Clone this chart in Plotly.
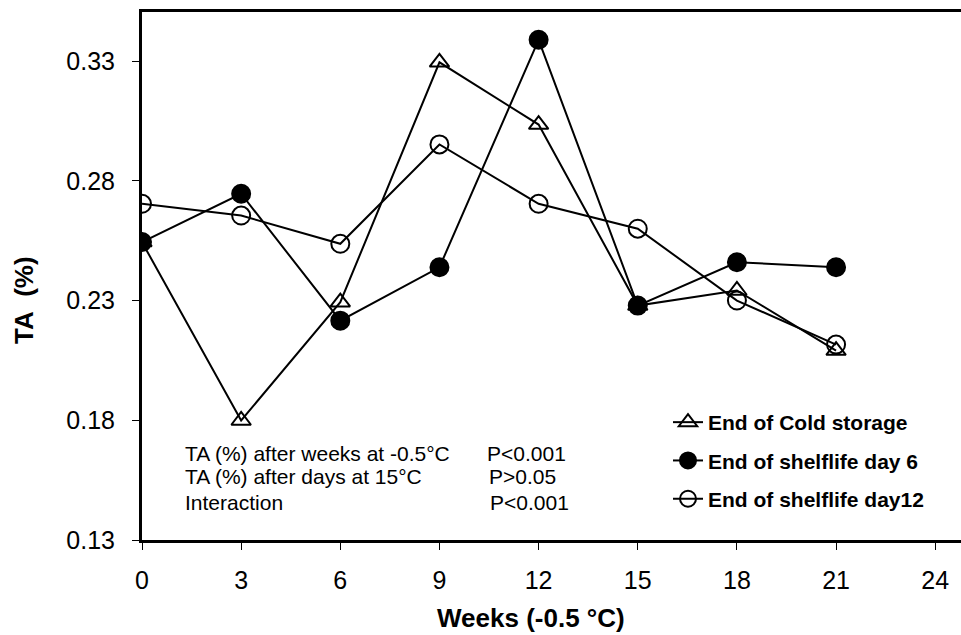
import plotly.graph_objects as go

weeks = [0, 3, 6, 9, 12, 15, 18, 21]
cold_storage = [0.2544, 0.1799, 0.2293, 0.3295, 0.3035, 0.2279, 0.2342, 0.2091]
shelf_day6 = [0.2544, 0.2746, 0.2216, 0.2439, 0.3389, 0.2279, 0.2460, 0.2439]
shelf_day12 = [0.2704, 0.2655, 0.2537, 0.2952, 0.2704, 0.2600, 0.2300, 0.2116]

x_ticks = [0, 3, 6, 9, 12, 15, 18, 21, 24]
y_ticks = [0.13, 0.18, 0.23, 0.28, 0.33]

stats_labels = ["TA (%) after weeks at -0.5°C", "TA (%) after days at 15°C", "Interaction"]
stats_values = ["P<0.001", "P>0.05", "P<0.001"]

FONT = "Liberation Sans, Arial, sans-serif"

fig = go.Figure()
series = [
    ("End of Cold storage", cold_storage, "triangle-up-open", 17),
    ("End of shelflife day 6", shelf_day6, "circle", 18),
    ("End of shelflife day12", shelf_day12, "circle-open", 18),
]
for i, (name, vals, sym, sz) in enumerate(series):
    fig.add_trace(go.Scatter(
        x=weeks, y=vals, name=name, mode="lines+markers", legendgroup=f"g{i}",
        line=dict(color="black", width=2),
        marker=dict(symbol=sym, size=sz, color="black",
                    line=dict(color="black", width=2)),
    ))

# statistics text block (paper coordinates)
PL, PR, PT, PB = 142, 961, 12, 540
def px_x(px):
    return (px - PL) / (PR - PL)
def px_y(py):
    return (PB - py) / (PB - PT)

row_y = [453, 477, 502]
p_x = [485, 487, 488]
for i, (lab, val) in enumerate(zip(stats_labels, stats_values)):
    fig.add_annotation(x=px_x(183), y=px_y(row_y[i]), xref="paper", yref="paper", text=lab,
                       showarrow=False, xanchor="left", yanchor="middle",
                       font=dict(family=FONT, size=21, color="black"))
    fig.add_annotation(x=px_x(p_x[i]), y=px_y(row_y[i]), xref="paper", yref="paper", text=val,
                       showarrow=False, xanchor="left", yanchor="middle",
                       font=dict(family=FONT, size=21, color="black"))

# axis titles
fig.add_annotation(x=px_x(531), y=px_y(618), xref="paper", yref="paper",
                   text="<b>Weeks (-0.5 °C)</b>", showarrow=False,
                   xanchor="center", yanchor="middle",
                   font=dict(family=FONT, size=26, color="black"))
fig.add_annotation(x=px_x(24), y=px_y(300), xref="paper", yref="paper",
                   text="<b>TA&nbsp;&nbsp;(%)</b>", showarrow=False, textangle=-90,
                   xanchor="center", yanchor="middle",
                   font=dict(family=FONT, size=26, color="black"))

fig.update_layout(
    width=961, height=635,
    margin=dict(l=PL, r=961 - PR, t=PT, b=635 - PB),
    paper_bgcolor="white", plot_bgcolor="white",
    font=dict(family=FONT, size=25, color="black"),
    showlegend=True,
    legend=dict(x=px_x(668), y=px_y(402), xanchor="left", yanchor="top",
                bgcolor="rgba(0,0,0,0)", traceorder="grouped",
                font=dict(family=FONT, size=21, color="black", weight="bold"),
                tracegroupgap=8),
    xaxis=dict(range=[0, 24.78], tickvals=x_ticks, ticks="outside", ticklen=7,
               tickwidth=1, tickcolor="black", showgrid=False, zeroline=False,
               showline=True, linecolor="black", linewidth=3, mirror=True,
               ticklabelstandoff=9,
               tickfont=dict(family=FONT, size=25)),
    yaxis=dict(range=[0.13, 0.3505], tickvals=y_ticks, tickformat=".2f",
               ticks="outside", ticklen=7, tickwidth=1, tickcolor="black",
               showgrid=False, zeroline=False, showline=True,
               linecolor="black", linewidth=3, ticklabelstandoff=12,
               tickfont=dict(family=FONT, size=25)),
)

fig.write_html("out.html")
